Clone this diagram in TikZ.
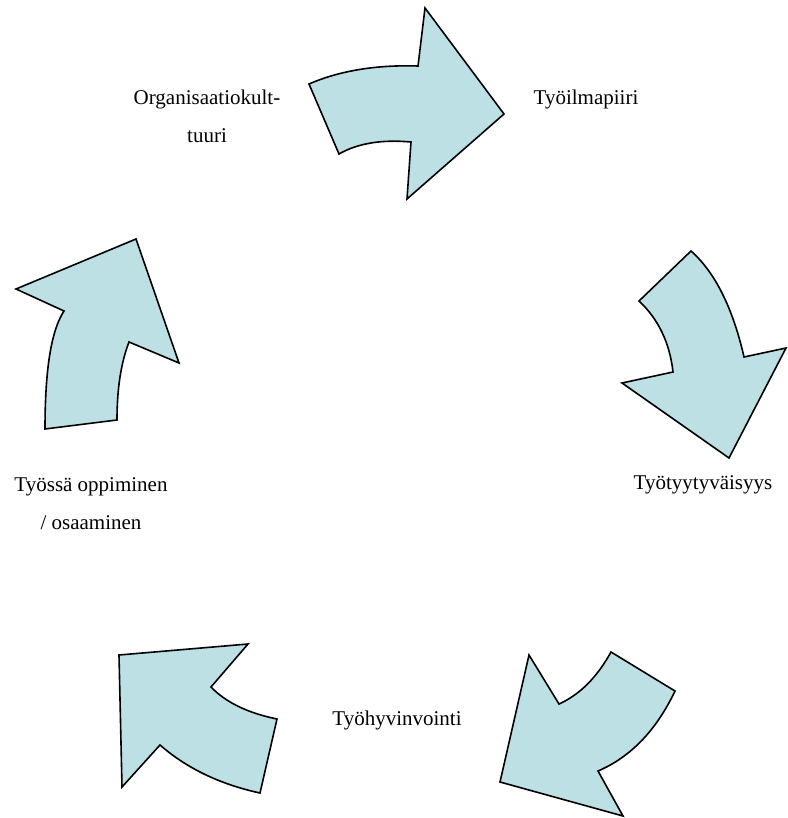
\documentclass[tikz,border=0pt]{standalone}
\usepackage{fontspec}
\setmainfont{Liberation Serif}
\usetikzlibrary{positioning}
\definecolor{arrowfill}{RGB}{188,224,228}
\definecolor{arrowline}{RGB}{0,0,0}
\begin{document}
\begin{tikzpicture}[
  x=1pt, y=-1pt,
  bent/.style={fill=arrowfill, draw=arrowline, line width=1.6pt, line join=miter},
  lbl/.style={align=center, inner sep=0pt, font=\fontsize{21}{38}\selectfont},
]
\useasboundingbox (0,0) rectangle (787,818);

% ---- Curved arrows, clockwise from the top ----
\filldraw[bent] (309,84) .. controls (339.7,70.7) and (376,64.7) .. (418,66) -- (425,8) -- (504,114)
  -- (407,199) -- (411,142) .. controls (381.7,139.3) and (357.7,143.3) .. (339,154) -- cycle;   % top
\filldraw[bent] (639,301) -- (691,251) .. controls (715,272.3) and (732.7,307.7) .. (744,357) -- (786,348)
  -- (729,458) -- (622,383) -- (673,372) .. controls (669.7,342.7) and (658.3,319) .. cycle;      % right
\filldraw[bent] (611,652) -- (675,691) .. controls (656.3,730.3) and (630.7,757) .. (598,771) -- (623,816)
  -- (500,782) -- (529,655) -- (559,704) .. controls (579.7,694.7) and (597,677.3) .. cycle;      % bottom right
\filldraw[bent] (119,655) -- (248,644) -- (211,687) .. controls (225.7,702.3) and (247.7,713) .. (277,719)
  -- (260,793) .. controls (220,784.3) and (186.7,768.3) .. (160,745) -- (122,787) -- cycle;     % bottom left
\filldraw[bent] (45,429) -- (117,420) .. controls (117,388.7) and (121,362.7) .. (129,342) -- (179,363)
  -- (136,239) -- (16,289) -- (64,311) .. controls (51.3,330.3) and (45,369) .. cycle;           % left

% ---- Labels ----
\node[lbl] (kult)   at (207,116) {Organisaatiokult-\\tuuri};
\node[lbl] (ilma)   at (586,99)  {Työilmapiiri};
\node[lbl] (tyyt)   at (703,485) {Työtyytyväisyys};
\node[lbl] (hyvi)   at (397,720) {Työhyvinvointi};
\node[lbl] (oppi)   at (91,504)  {Työssä oppiminen\\/ osaaminen};
\end{tikzpicture}
\end{document}
